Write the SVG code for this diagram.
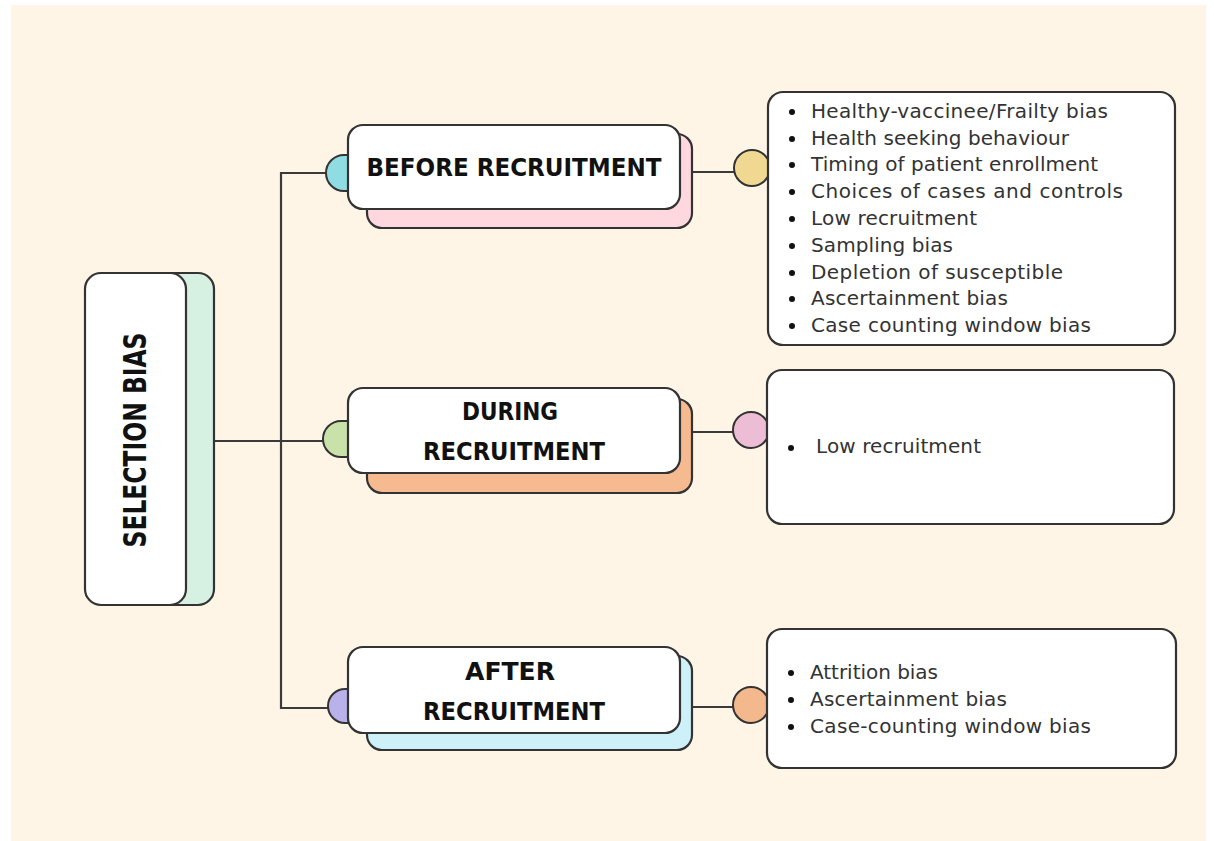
<svg xmlns="http://www.w3.org/2000/svg" width="1214" height="841" viewBox="0 0 1214 841">
  <style>
    .edge { fill: none; stroke: #3a3a3a; stroke-width: 2.2; }
    .card { fill: #ffffff; stroke: #333333; stroke-width: 2.2; }
    .shadow { stroke: #333333; stroke-width: 2.2; }
    .tab { stroke: #333333; stroke-width: 2; }
    .head { font-family: "DejaVu Sans Condensed", "DejaVu Sans", sans-serif; font-weight: bold; fill: #111111; text-anchor: middle; }
    .item { font-family: "DejaVu Sans", "Liberation Sans", sans-serif; font-size: 20px; fill: #333333; }
    .dot { fill: #111111; }
  </style>

  <!-- page -->
  <rect x="0" y="0" width="1214" height="841" fill="#ffffff"/>
  <rect x="11" y="5" width="1195" height="836" fill="#fef5e7"/>

  <!-- connectors -->
  <g id="connectors">
    <line class="edge" x1="214" y1="441" x2="330" y2="441"/>
    <polyline class="edge" points="330,173 281,173 281,708 330,708"/>
    <line class="edge" x1="690" y1="172" x2="740" y2="172"/>
    <line class="edge" x1="692" y1="432" x2="740" y2="432"/>
    <line class="edge" x1="690" y1="707" x2="740" y2="707"/>
  </g>

  <!-- root -->
  <g id="selection-bias">
    <rect class="shadow" x="110" y="273" width="104" height="332" rx="16" fill="#d6f0e2"/>
    <rect class="card" x="85" y="273" width="101" height="332" rx="16"/>
    <text class="head" transform="translate(146 440) rotate(-90)" x="0" y="0" font-size="32" textLength="215" lengthAdjust="spacingAndGlyphs">SELECTION BIAS</text>
  </g>

  <!-- before recruitment -->
  <g id="before-recruitment">
    <path class="tab" d="M354,155 H344 A18,18 0 0 0 344,191 H354 Z" fill="#8fdde2"/>
    <rect class="shadow" x="367" y="134" width="325" height="94" rx="15" fill="#ffd7df"/>
    <rect class="card" x="348" y="125" width="332" height="84" rx="15"/>
    <text class="head" x="514" y="176" font-size="24" textLength="295" lengthAdjust="spacingAndGlyphs">BEFORE RECRUITMENT</text>
  </g>

  <!-- during recruitment -->
  <g id="during-recruitment">
    <path class="tab" d="M354,421 H341 A18,18 0 0 0 341,457 H354 Z" fill="#c9e2aa"/>
    <rect class="shadow" x="367" y="399" width="325" height="94" rx="15" fill="#f5ba8f"/>
    <rect class="card" x="348" y="388" width="332" height="85" rx="15"/>
    <text class="head" x="510" y="420" font-size="24" textLength="96" lengthAdjust="spacingAndGlyphs">DURING</text>
    <text class="head" x="514" y="460" font-size="24" textLength="182" lengthAdjust="spacingAndGlyphs">RECRUITMENT</text>
  </g>

  <!-- after recruitment -->
  <g id="after-recruitment">
    <path class="tab" d="M354,689 H345 A17,17 0 0 0 345,723 H354 Z" fill="#b9b1e9"/>
    <rect class="shadow" x="367" y="656" width="325" height="94" rx="15" fill="#cef0f9"/>
    <rect class="card" x="348" y="647" width="332" height="86" rx="15"/>
    <text class="head" x="510" y="680" font-size="24" textLength="90" lengthAdjust="spacingAndGlyphs">AFTER</text>
    <text class="head" x="514" y="720" font-size="24" textLength="182" lengthAdjust="spacingAndGlyphs">RECRUITMENT</text>
  </g>

  <!-- list: before -->
  <g id="before-list">
    <circle class="tab" cx="752" cy="168" r="18" fill="#f0d893"/>
    <rect class="card" x="768" y="92" width="407" height="253" rx="15"/>
    <g class="dot">
      <circle cx="792" cy="112" r="3"/>
      <circle cx="792" cy="139" r="3"/>
      <circle cx="792" cy="165" r="3"/>
      <circle cx="792" cy="192" r="3"/>
      <circle cx="792" cy="219" r="3"/>
      <circle cx="792" cy="246" r="3"/>
      <circle cx="792" cy="273" r="3"/>
      <circle cx="792" cy="299" r="3"/>
      <circle cx="792" cy="326" r="3"/>
    </g>
    <text class="item" x="811" y="118" textLength="297">Healthy-vaccinee/Frailty bias</text>
    <text class="item" x="811" y="145" textLength="258">Health seeking behaviour</text>
    <text class="item" x="811" y="171" textLength="287">Timing of patient enrollment</text>
    <text class="item" x="811" y="198" textLength="312">Choices of cases and controls</text>
    <text class="item" x="811" y="225" textLength="166">Low recruitment</text>
    <text class="item" x="811" y="252" textLength="142">Sampling bias</text>
    <text class="item" x="811" y="279" textLength="252">Depletion of susceptible</text>
    <text class="item" x="811" y="305" textLength="197">Ascertainment bias</text>
    <text class="item" x="811" y="332" textLength="280">Case counting window bias</text>
  </g>

  <!-- list: during -->
  <g id="during-list">
    <circle class="tab" cx="751" cy="430" r="18" fill="#ecbdd5"/>
    <rect class="card" x="767" y="370" width="407" height="154" rx="15"/>
    <circle class="dot" cx="791" cy="448" r="3"/>
    <text class="item" x="816" y="453" textLength="165">Low recruitment</text>
  </g>

  <!-- list: after -->
  <g id="after-list">
    <circle class="tab" cx="751" cy="705" r="18" fill="#f3b88c"/>
    <rect class="card" x="767" y="629" width="409" height="139" rx="15"/>
    <g class="dot">
      <circle cx="791" cy="673" r="3"/>
      <circle cx="791" cy="700" r="3"/>
      <circle cx="791" cy="727" r="3"/>
    </g>
    <text class="item" x="810" y="679" textLength="128">Attrition bias</text>
    <text class="item" x="810" y="706" textLength="197">Ascertainment bias</text>
    <text class="item" x="810" y="733" textLength="281">Case-counting window bias</text>
  </g>
</svg>
